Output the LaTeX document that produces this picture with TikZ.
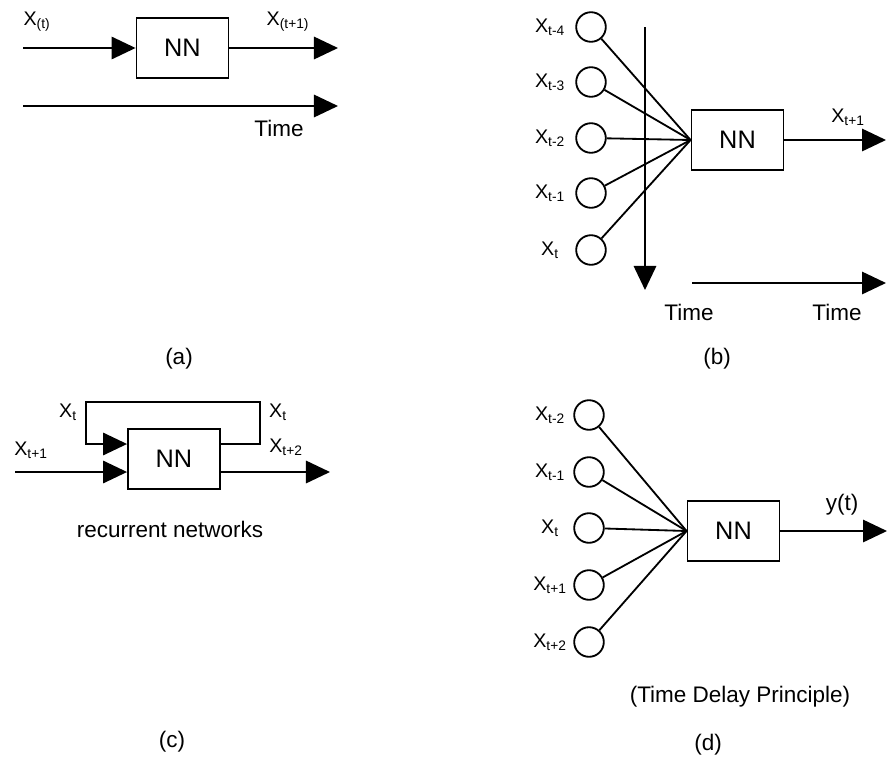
\documentclass[tikz,border=0pt]{standalone}
\usepackage{fontspec}
\setmainfont{Liberation Sans}
\usetikzlibrary{arrows.meta,positioning}

\begin{document}
\begin{tikzpicture}[x=0.025cm,y=-0.025cm,
    nn/.style={draw,line width=1.3pt,minimum width=2.3cm,minimum height=1.5cm,
               font=\fontsize{18}{20}\selectfont},
    unit/.style={draw,circle,line width=1.3pt,minimum size=0.74cm,inner sep=0pt},
    lbl/.style={font=\fontsize{14}{16}\selectfont,inner sep=1pt},
    captext/.style={font=\fontsize{16}{19}\selectfont},
    link/.style={line width=1.3pt},
    flow/.style={line width=1.3pt,-{Triangle[length=0.6cm,width=0.56cm]}}
  ]
    \useasboundingbox (0,0) rectangle (888,757);

    % (a)
    \node[nn] (nna) at (182.5,48) {NN};
    \coordinate (ina) at (23,48);
    \coordinate (outa) at (338,48);
    \coordinate (ta0) at (23,106);
    \coordinate (ta1) at (338,106);
    \draw[flow] (ina)--(nna);
    \draw[flow] (nna)--(outa);
    \draw[flow] (ta0)--(ta1);
    \node[lbl] (xa) at (37,22) {X\textsubscript{(t)}};
    \node[lbl] (xa1) at (288,22) {X\textsubscript{(t+1)}};
    \node[captext] (timea) at (279,128) {Time};
    \node[captext] (capa) at (179,359) {(a)};

    % (b)
    \node[nn] (nnb) at (737.5,140) {NN};
    \foreach \k/\y/\s in {4/27/t-4,3/82/t-3,2/138/t-2,1/193/t-1,0/250/t}{
      \node[unit] (b\k) at (591,\y) {};
      \node[lbl] (lb\k) at (550,\y) {X\textsubscript{\s}};
      \draw[link] (b\k)--(nnb.west);
    }
    \coordinate (tb0) at (645,27);
    \coordinate (tb1) at (645,290);
    \coordinate (outb) at (886,140);
    \coordinate (hb0) at (692,283);
    \coordinate (hb1) at (886,283);
    \draw[flow] (tb0)--(tb1);
    \draw[flow] (nnb)--(outb);
    \draw[flow] (hb0)--(hb1);
    \node[lbl] (xb1) at (848,117) {X\textsubscript{t+1}};
    \node[captext] (timeb) at (689,312) {Time};
    \node[captext] (timeb2) at (837,312) {Time};
    \node[captext] (capb) at (717,359) {(b)};

    % (c)
    \node[nn] (nnc) at (174,459) {NN};
    \coordinate (inc) at (15,472);
    \coordinate (outc) at (330,472);
    \coordinate (fbr) at (260,444);
    \coordinate (fbl) at (86,444);
    \coordinate (lpl) at (86,402);
    \draw[flow] (inc)--(inc -| nnc.west);
    \draw[flow] (outc -| nnc.east)--(outc);
    \draw[flow] (fbr -| nnc.east)--(fbr) |- (lpl) |- (fbl -| nnc.west);
    \node[lbl] (xcl) at (68,412) {X\textsubscript{t}};
    \node[lbl] (xcr) at (278,412) {X\textsubscript{t}};
    \node[lbl] (xc1) at (31,450) {X\textsubscript{t+1}};
    \node[lbl] (xc2) at (286,447) {X\textsubscript{t+2}};
    \node[captext] (recc) at (170,529) {recurrent networks};
    \node[captext] (capc) at (172,742) {(c)};

    % (d)
    \node[nn] (nnd) at (733.5,531) {NN};
    \foreach \k/\y/\s in {1/415/t-2,2/472/t-1,3/528/t,4/585/t+1,5/642/t+2}{
      \node[unit] (d\k) at (589,\y) {};
      \node[lbl] (ld\k) at (550,\y) {X\textsubscript{\s}};
      \draw[link] (d\k)--(nnd.west);
    }
    \coordinate (outd) at (887,531);
    \draw[flow] (nnd)--(outd);
    \node[captext] (yd) at (842,505) {y(t)};
    \node[captext] (tdp) at (740,697) {(Time Delay Principle)};
    \node[captext] (capd) at (708,745) {(d)};
  \end{tikzpicture}
\end{document}
